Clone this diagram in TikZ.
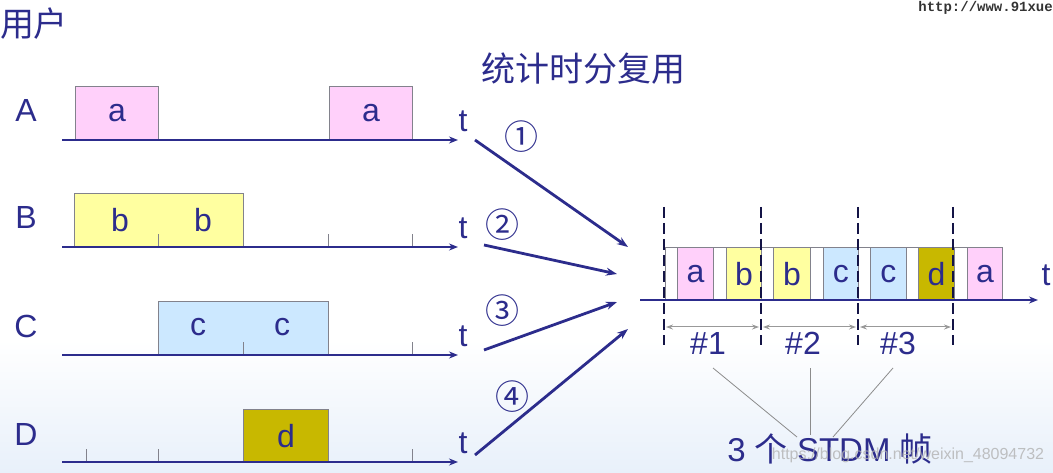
\documentclass[tikz,border=0pt]{standalone}
\usepackage{fontspec}
\setmainfont{Liberation Sans}
\newfontfamily\cjk{Noto Sans CJK SC}
\newfontfamily\monof{Liberation Mono}
\usetikzlibrary{arrows.meta,calc}
\definecolor{navy}{RGB}{44,44,140}
\definecolor{pinkA}{RGB}{255,208,250}
\definecolor{yelB}{RGB}{255,255,160}
\definecolor{bluC}{RGB}{204,232,255}
\definecolor{oliveD}{RGB}{200,184,0}
\definecolor{boxline}{RGB}{130,130,140}
\definecolor{dashc}{RGB}{20,20,70}
\definecolor{bgblue}{RGB}{232,240,250}
\begin{document}
\begin{tikzpicture}[x=1pt,y=-1pt,
  lbl/.style={text=navy,font=\fontsize{32}{32}\selectfont,inner sep=0pt},
  cjklbl/.style={text=navy,font=\cjk\fontsize{34}{34}\selectfont,inner sep=0pt},
  slot/.style={draw=boxline,line width=0.8pt,inner sep=0pt,anchor=north west,text=navy,font=\fontsize{32}{32}\selectfont},
  axis/.style={draw=navy,line width=2.8pt,-{Stealth[length=9pt,width=7pt]}},
  tickm/.style={draw=boxline,line width=0.8pt},
  feed/.style={draw=navy,line width=2.8pt,-{Stealth[length=11pt,width=8pt]}},
  frameline/.style={draw=dashc,line width=2.8pt,dash pattern=on 11pt off 5pt},
  span/.style={draw=gray!80,line width=1pt,{Stealth[length=7pt,width=5pt]}-{Stealth[length=7pt,width=5pt]}},
  pointer/.style={draw=gray!90,line width=0.8pt},
  circ/.style={text=navy,font=\cjk\fontsize{34}{34}\selectfont,inner sep=0pt}
]
\useasboundingbox (0,0) rectangle (1053,473);
\shade[top color=white,bottom color=bgblue] (0,340) rectangle (1053,473);

% titles
\node[cjklbl] (users) at (34,24) {用户};
\node[cjklbl] (title) at (583,69) {统计时分复用};

% row labels
\node[lbl] (LA) at (26,110) {A};
\node[lbl] (LB) at (26,217) {B};
\node[lbl] (LC) at (26,326) {C};
\node[lbl] (LD) at (26,434) {D};

% ---- row A
\node[slot,fill=pinkA,minimum width=83pt,minimum height=54pt] (a1) at (75,86) {a};
\node[slot,fill=pinkA,minimum width=83pt,minimum height=54pt] (a2) at (329,86) {a};
\coordinate (A0) at (62,140); \coordinate (A1) at (458,140);
\draw[axis] (A0) -- (A1);
\node[lbl] (tA) at (463,121) {t};

% ---- row B
\node[slot,fill=yelB,minimum width=169pt,minimum height=54pt] (b1) at (74,193) {};
\node[lbl] (bt1) at (120,220) {b};
\node[lbl] (bt2) at (203,220) {b};
\coordinate (B0) at (62,247); \coordinate (B1) at (458,247);
\draw[tickm] (158,247) -- (158,234) (328,247) -- (328,234) (412,247) -- (412,234);
\draw[axis] (B0) -- (B1);
\node[lbl] (tB) at (463,228) {t};

% ---- row C
\node[slot,fill=bluC,minimum width=170pt,minimum height=54pt] (c1) at (158,301) {};
\node[lbl] (ct1) at (198,327) {c};
\node[lbl] (ct2) at (282,327) {c};
\coordinate (C0) at (62,355); \coordinate (C1) at (458,355);
\draw[tickm] (243,355) -- (243,342) (412,355) -- (412,342);
\draw[axis] (C0) -- (C1);
\node[lbl] (tC) at (463,336) {t};

% ---- row D
\node[slot,fill=oliveD,minimum width=85pt,minimum height=53pt] (d1) at (243,409) {d};
\coordinate (D0) at (62,462); \coordinate (D1) at (458,462);
\draw[tickm] (86,462) -- (86,449) (158,462) -- (158,449) (412,462) -- (412,449);
\draw[axis] (D0) -- (D1);
\node[lbl] (tD) at (463,443) {t};

% ---- feed arrows
\coordinate (f1s) at (475,140); \coordinate (f1e) at (628,247);
\coordinate (f2s) at (484,245); \coordinate (f2e) at (617,274);
\coordinate (f3s) at (484,350); \coordinate (f3e) at (617,302);
\coordinate (f4s) at (475,455); \coordinate (f4e) at (628,329);
\draw[feed] (f1s) -- (f1e);
\draw[feed] (f2s) -- (f2e);
\draw[feed] (f3s) -- (f3e);
\draw[feed] (f4s) -- (f4e);
\node[circ] (n1) at (521,137) {①};
\node[circ] (n2) at (502,225) {②};
\node[circ] (n3) at (502,311) {③};
\node[circ] (n4) at (512,397) {④};

% ---- multiplexed line
\node[slot,fill=white,minimum width=337pt,minimum height=53pt] (frame) at (665,247) {};
\node[slot,fill=pinkA,minimum width=36pt,minimum height=53pt] (s1) at (677,247) {a};
\node[slot,fill=yelB,minimum width=35pt,minimum height=53pt] (s2) at (726,247) {b};
\node[slot,fill=yelB,minimum width=37pt,minimum height=53pt] (s3) at (773,247) {b};
\node[slot,fill=bluC,minimum width=35pt,minimum height=53pt] (s4) at (823,247) {c};
\node[slot,fill=bluC,minimum width=36pt,minimum height=53pt] (s5) at (870,247) {c};
\node[slot,fill=oliveD,minimum width=36pt,minimum height=53pt] (s6) at (918,247) {d};
\node[slot,fill=pinkA,minimum width=35pt,minimum height=53pt] (s7) at (967,247) {a};
\coordinate (M0) at (640,300); \coordinate (M1) at (1038,300);
\draw[axis] (M0) -- (M1);
\node[lbl] (tM) at (1046,275) {t};

% frame boundaries
\coordinate (v1t) at (664,207); \coordinate (v1b) at (664,345);
\coordinate (v2t) at (761,207); \coordinate (v2b) at (761,345);
\coordinate (v3t) at (858,207); \coordinate (v3b) at (858,345);
\coordinate (v4t) at (953,207); \coordinate (v4b) at (953,345);
\draw[frameline] (v1t) -- (v1b);
\draw[frameline] (v2t) -- (v2b);
\draw[frameline] (v3t) -- (v3b);
\draw[frameline] (v4t) -- (v4b);
\draw[span] (666,327) -- (759,327);
\draw[span] (763,327) -- (856,327);
\draw[span] (860,327) -- (951,327);
\node[lbl] (h1) at (708,343) {\#1};
\node[lbl] (h2) at (803,343) {\#2};
\node[lbl] (h3) at (898,343) {\#3};

% caption and pointers
\node[text=navy,inner sep=0pt,font=\fontsize{33}{33}\selectfont] (cap) at (830,449) {3 {\cjk 个} STDM {\cjk 帧}};
\coordinate (p1s) at (713,368); \coordinate (p1e) at (797,437);
\coordinate (p2s) at (810,368); \coordinate (p2e) at (810,435);
\coordinate (p3s) at (893,368); \coordinate (p3e) at (833,437);
\draw[pointer] (p1s) -- (p1e);
\draw[pointer] (p2s) -- (p2e);
\draw[pointer] (p3s) -- (p3e);

% watermarks
\node[text=gray!60,opacity=0.8,inner sep=0pt,font=\fontsize{16}{16}\selectfont] (wm) at (908,455) {https://blog.csdn.net/weixin\_48094732};
\node[text=black!80,inner sep=0pt,anchor=north east,font=\monof\bfseries\fontsize{14}{14}\selectfont] (url) at (1053,1) {http://www.91xue};
\end{tikzpicture}
\end{document}
